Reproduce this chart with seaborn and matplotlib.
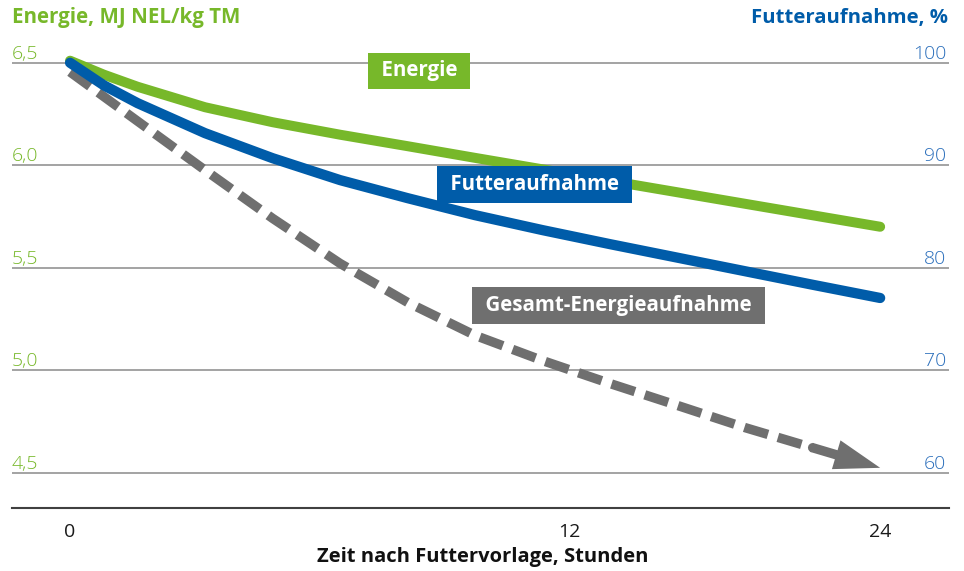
import numpy as np
import pandas as pd
import matplotlib
matplotlib.use("Agg")
import matplotlib.pyplot as plt
import seaborn as sns

# Werte
stunden = [0, 1, 2, 4, 6, 8, 10, 12, 14, 16, 18, 20, 22, 24]
energie = [6.51, 6.442, 6.383, 6.283, 6.21, 6.149, 6.093, 6.036, 5.98, 5.924, 5.868, 5.812, 5.756, 5.70]
futteraufnahme = [100, 97.8, 96.06, 93.13, 90.69, 88.55, 86.79, 85.13, 83.67, 82.3, 80.98, 79.66, 78.34, 77.05]
gesamt_energie = [6.455, 6.335, 6.215, 5.976, 5.741, 5.521, 5.331, 5.17, 5.047, 4.935, 4.828, 4.72, 4.622, 4.524]

energie_ticks = [4.5, 5.0, 5.5, 6.0, 6.5]
energie_labels = ['4,5', '5,0', '5,5', '6,0', '6,5']
futter_ticks = [60, 70, 80, 90, 100]
x_tick_pos = [0, 14.8, 24]
x_tick_labels = ['0', '12', '24']

GRUEN = '#77B82A'
BLAU = '#005CA9'
GRAU = '#6F6F6F'

df = pd.DataFrame({'stunden': stunden, 'energie': energie,
                   'futter': futteraufnahme, 'gesamt': gesamt_energie})

sns.set_theme(style='white')
plt.rcParams['font.family'] = ['Open Sans', 'DejaVu Sans']

fig = plt.figure(figsize=(9.64, 5.71), dpi=100)
ax = fig.add_axes([12 / 964, 63 / 571, 937 / 964, 468 / 571])
ax2 = ax.twinx()

# Gesamt-Energieaufnahme (gestrichelt, letzter Abschnitt als Pfeil)
sns.lineplot(data=df.iloc[:-1], x='stunden', y='gesamt', ax=ax, color=GRAU,
             lw=6.8, zorder=3)
ax.lines[-1].set_dashes((2.6, 1.1))
ax.lines[-1].set_dash_capstyle('butt')
ende = (stunden[-1], gesamt_energie[-1])
start = (stunden[-2], gesamt_energie[-2])
ax.annotate('', xy=ende, xytext=start,
            arrowprops=dict(arrowstyle='-', color=GRAU, lw=6.8,
                            shrinkA=0, shrinkB=28), zorder=4)
ax.annotate('', xy=ende, xytext=start,
            arrowprops=dict(arrowstyle='-|>,head_length=2.2,head_width=0.72',
                            mutation_scale=15, fc=GRAU, ec='none', lw=0,
                            shrinkA=0, shrinkB=0), zorder=4)

# Energie
sns.lineplot(data=df, x='stunden', y='energie', ax=ax, color=GRUEN, lw=7.2,
             solid_capstyle='round', solid_joinstyle='round', zorder=4)

# Futteraufnahme (rechte Achse)
sns.lineplot(data=df, x='stunden', y='futter', ax=ax2, color=BLAU, lw=7.4,
             solid_capstyle='round', solid_joinstyle='round', zorder=5)

ylim = (4.328, 6.611)
ax.set_ylim(*ylim)
ax2.set_ylim(60 + (ylim[0] - 4.5) * 20, 60 + (ylim[1] - 4.5) * 20)
ax.set_xlim(-1.72, 26.04)

ax.set_yticks(energie_ticks)
ax.set_yticklabels(energie_labels)
ax2.set_yticks(futter_ticks)
ax.set_xticks(x_tick_pos)
ax.set_xticklabels(x_tick_labels)

ax.grid(axis='y', color='#A3A3A3', lw=1.4)
ax.grid(axis='x', visible=False)
ax2.grid(False)
for a in (ax, ax2):
    for s in ('top', 'left', 'right', 'bottom'):
        a.spines[s].set_visible(False)
ax.spines['bottom'].set_visible(True)
ax.spines['bottom'].set_color('#404040')
ax.spines['bottom'].set_linewidth(1.5)
ax.set_xlabel('')
ax.set_ylabel('')
ax2.set_ylabel('')
ax.set_zorder(ax2.get_zorder() - 1)
ax.patch.set_visible(False)

ax.tick_params(axis='y', length=0, pad=0, labelsize=14, labelcolor=GRUEN)
for lbl in ax.get_yticklabels():
    lbl.set_ha('left')
    lbl.set_va('bottom')
    lbl.set_fontweight('light')
ax2.tick_params(axis='y', length=0, pad=-2, labelsize=14, labelcolor='#2A6EBB')
for lbl in ax2.get_yticklabels():
    lbl.set_ha('right')
    lbl.set_va('bottom')
    lbl.set_fontweight('light')
ax.tick_params(axis='x', length=0, pad=11, labelsize=14, labelcolor='#1A1A1A')

# Beschriftungen
fig.text(12 / 964, 1 - 18 / 571, 'Energie, MJ NEL/kg TM', color=GRUEN,
         fontsize=14.8, fontweight='bold', ha='left', va='center')
fig.text(948 / 964, 1 - 18 / 571, 'Futteraufnahme, %', color=BLAU,
         fontsize=14.6, fontweight='bold', ha='right', va='center')
fig.text(483 / 964, 1 - 557 / 571, 'Zeit nach Futtervorlage, Stunden',
         color='#111111', fontsize=14.5, fontweight='bold', ha='center', va='center')

box = dict(boxstyle='square,pad=0.38', ec='none')
ax.text(10.34, 6.46, ' Energie ', color='white', fontsize=14.8, fontweight='bold',
        ha='center', va='center', bbox=dict(box, fc=GRUEN), zorder=6)
ax2.text(13.76, 60 + (5.906 - 4.5) * 20, ' Futteraufnahme ', color='white',
         fontsize=14.8, fontweight='bold', ha='center', va='center',
         bbox=dict(box, fc=BLAU), zorder=6)
ax.text(16.25, 5.316, ' Gesamt-Energieaufnahme ', color='white', fontsize=14.8,
        fontweight='bold', ha='center', va='center', bbox=dict(box, fc=GRAU), zorder=6)

fig.savefig('out.png', dpi=100)
